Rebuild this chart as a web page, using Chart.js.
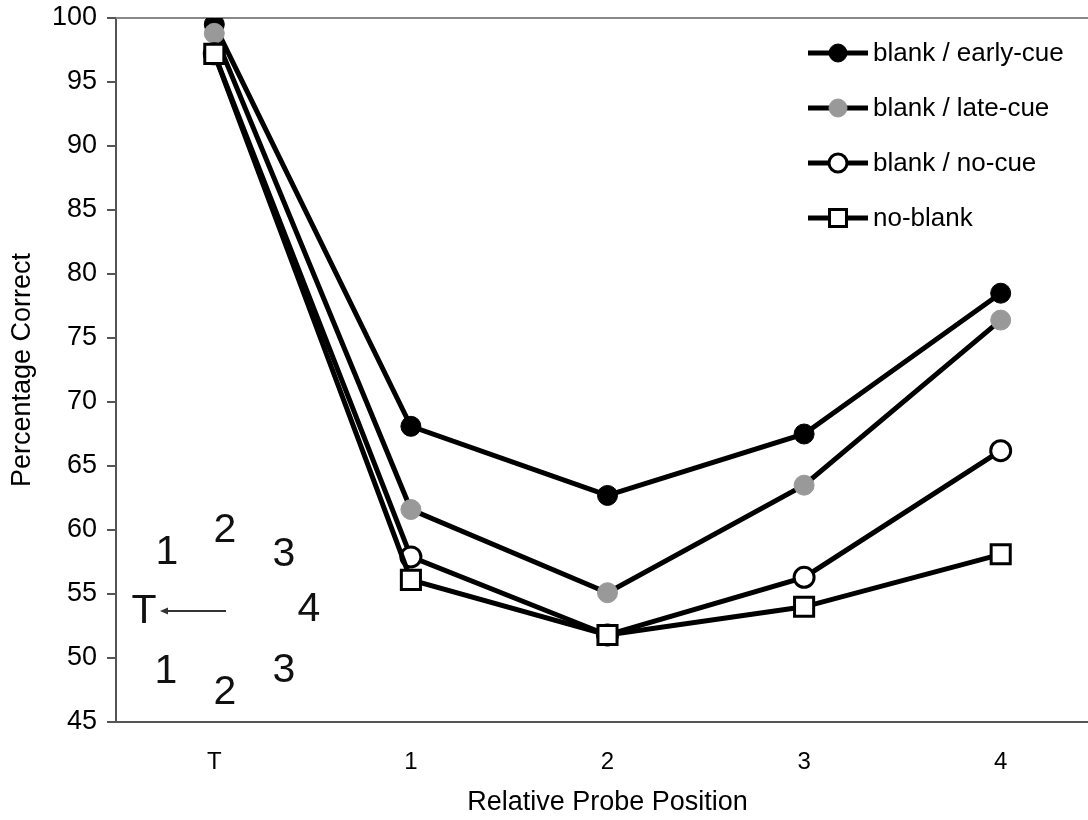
<!DOCTYPE html>
<html>
<head>
<meta charset="utf-8">
<script src="https://cdn.jsdelivr.net/npm/chart.js@4.4.1/dist/chart.umd.min.js"></script>
<style>
  html, body { margin: 0; padding: 0; background: #fff; overflow: hidden; }
  #wrap { width: 1099px; height: 820px; }
</style>
</head>
<body>
<div id="wrap"><canvas id="myChart" width="1099" height="820"></canvas></div>
<script>
const labels = ['T', '1', '2', '3', '4'];

const earlyCue = [99.5, 68.1, 62.7, 67.5, 78.5];
const lateCue = [98.8, 61.6, 55.1, 63.5, 76.4];
const noCue = [97.2, 57.9, 51.8, 56.3, 66.2];
const noBlank = [97.2, 56.1, 51.8, 54.0, 58.1];

const seriesNames = ['blank / early-cue', 'blank / late-cue', 'blank / no-cue', 'no-blank'];

const FONT = "'Liberation Sans', Arial, sans-serif";

function makeSet(label, values, style, radius, fill, border, bw, order) {
    return {
        label: label,
        data: values,
        borderColor: '#000',
        borderWidth: 5,
        pointStyle: style,
        pointRadius: radius,
        pointHoverRadius: radius,
        pointBackgroundColor: fill,
        pointBorderColor: border,
        pointBorderWidth: bw,
        order: order,
        tension: 0
    };
}

const data = {
    labels: labels,
    datasets: [
        makeSet(seriesNames[0], earlyCue, 'circle', 10, '#000', '#000', 1, 3),
        makeSet(seriesNames[1], lateCue, 'circle', 10, '#999', '#999', 1, 2),
        makeSet(seriesNames[2], noCue, 'circle', 10, '#fff', '#000', 3, 1),
        makeSet(seriesNames[3], noBlank, 'rect', 13.5, '#fff', '#000', 3, 0)
    ]
};

// legend with line through the marker, top right
const lineLegend = {
    id: 'lineLegend',
    afterDraw(chart) {
        const ctx = chart.ctx;
        ctx.save();
        chart.data.datasets.forEach((ds, i) => {
            const y = 53 + i * 55;
            ctx.strokeStyle = '#000';
            ctx.lineWidth = 5;
            ctx.beginPath();
            ctx.moveTo(808, y);
            ctx.lineTo(868, y);
            ctx.stroke();
            ctx.fillStyle = ds.pointBackgroundColor;
            ctx.strokeStyle = ds.pointBorderColor;
            ctx.lineWidth = ds.pointBorderWidth;
            Chart.helpers.drawPoint(ctx, {
                pointStyle: ds.pointStyle,
                radius: ds.pointStyle === 'rect' ? 12 : 9,
                rotation: 0,
                borderWidth: ds.pointBorderWidth
            }, 838, y);
            ctx.fillStyle = '#000';
            ctx.font = '26px ' + FONT;
            ctx.textAlign = 'left';
            ctx.textBaseline = 'middle';
            ctx.fillText(ds.label, 873, y + 1);
        });
        ctx.restore();
    }
};

// top frame line and the small probe-layout inset
const extras = {
    id: 'extras',
    beforeDatasetsDraw(chart) {
        const ctx = chart.ctx;
        const a = chart.chartArea;
        ctx.save();
        ctx.strokeStyle = '#888';
        ctx.lineWidth = 2;
        ctx.beginPath();
        ctx.moveTo(a.left, a.top);
        ctx.lineTo(chart.width, a.top);
        ctx.stroke();

        ctx.fillStyle = '#111';
        ctx.font = '41px ' + FONT;
        ctx.textAlign = 'center';
        ctx.textBaseline = 'middle';
        const inset = [
            ['1', 167, 553], ['2', 225, 531], ['3', 284, 555],
            ['T', 144, 612], ['4', 309, 610],
            ['1', 166, 672], ['2', 225, 693], ['3', 284, 671]
        ];
        inset.forEach(t => ctx.fillText(t[0], t[1], t[2]));

        ctx.strokeStyle = '#333';
        ctx.lineWidth = 2;
        ctx.beginPath();
        ctx.moveTo(226, 611);
        ctx.lineTo(163, 611);
        ctx.stroke();
        ctx.beginPath();
        ctx.moveTo(160, 611);
        ctx.lineTo(168, 607.5);
        ctx.lineTo(168, 614.5);
        ctx.closePath();
        ctx.fillStyle = '#333';
        ctx.fill();
        ctx.restore();
    }
};

const config = {
    type: 'line',
    data: data,
    plugins: [extras, lineLegend],
    options: {
        responsive: false,
        animation: false,
        layout: { autoPadding: false, padding: { top: 18, right: 0, left: 0, bottom: 0 } },
        plugins: {
            legend: { display: false },
            tooltip: { enabled: false }
        },
        scales: {
            x: {
                offset: true,
                grid: { display: false, drawTicks: false },
                border: { display: true, color: '#555', width: 2 },
                ticks: { color: '#000', font: { family: FONT, size: 24 }, padding: 26 },
                title: {
                    display: true,
                    text: 'Relative Probe Position',
                    color: '#000',
                    font: { family: FONT, size: 27 },
                    padding: { top: 0, bottom: 1 }
                },
                afterFit(scale) {
                    scale.height = 98;
                    scale.paddingLeft = 0;
                    scale.paddingRight = 0;
                }
            },
            y: {
                min: 45,
                max: 100,
                ticks: { stepSize: 5, color: '#000', font: { family: FONT, size: 27 }, padding: 10 },
                grid: { drawOnChartArea: false, drawTicks: true, tickLength: 9, color: '#555', lineWidth: 2 },
                border: { display: true, color: '#555', width: 2 },
                title: {
                    display: true,
                    text: 'Percentage Correct',
                    color: '#000',
                    font: { family: FONT, size: 27 },
                    padding: { top: 6, bottom: 0 }
                },
                afterFit(scale) {
                    scale.width = 116;
                    scale.paddingTop = 0;
                    scale.paddingBottom = 0;
                }
            }
        }
    }
};

const myChart = new Chart(
    document.getElementById('myChart'),
    config
);
</script>
</body>
</html>
